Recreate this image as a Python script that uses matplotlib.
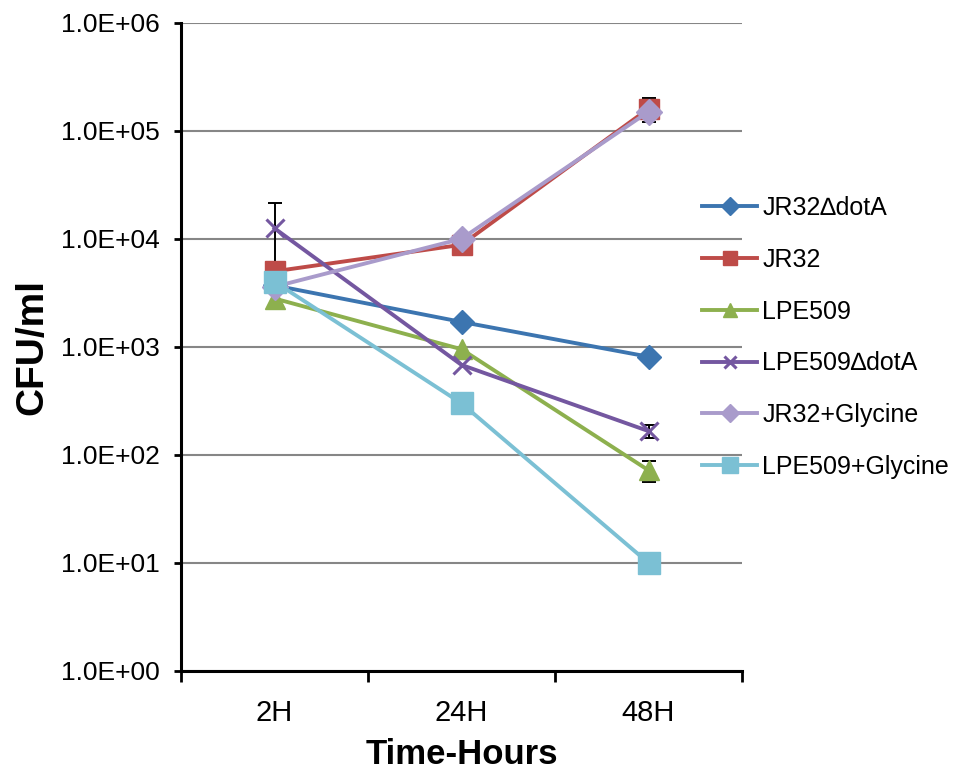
import numpy as np
import matplotlib.pyplot as plt

plt.rcParams['font.family'] = ['Liberation Sans', 'DejaVu Sans']

times = ['2H', '24H', '48H']
series = ['JR32\u2206dotA', 'JR32', 'LPE509', 'LPE509\u2206dotA', 'JR32+Glycine', 'LPE509+Glycine']

jr32_dota = [3.7e3, 1.7e3, 8.1e2]
jr32 = [5.0e3, 8.8e3, 1.6e5]
lpe509 = [2.8e3, 9.5e2, 72]
lpe509_dota = [1.25e4, 6.8e2, 166]
jr32_gly = [3.6e3, 1.0e4, 1.5e5]
lpe509_gly = [4.0e3, 3.0e2, 10]

# standard deviations (0 = no visible bar)
jr32_err = [0, 0, 4.0e4]
lpe509_err = [0, 0, 16]
lpe509_dota_err = [9.0e3, 0, 23]

values = [jr32_dota, jr32, lpe509, lpe509_dota, jr32_gly, lpe509_gly]
errors = [None, jr32_err, lpe509_err, lpe509_dota_err, None, None]
colors = ['#3C75B0', '#BE4B48', '#8DB04E', '#7457A0', '#A99BCB', '#7BC0D4']
markers = ['D', 's', '^', 'x', 'D', 's']
msizes = [12.5, 15, 14, 13, 13.5, 16]

fig = plt.figure(figsize=(9.63, 7.74), dpi=100)
ax = fig.add_axes([0.188, 0.1331, 0.5825, 0.8376])

x = np.arange(len(times))
for vals, err, c, m, ms, lab in zip(values, errors, colors, markers, msizes, series):
    if err is not None:
        e = np.array(err, dtype=float)
        keep = e > 0
        ax.errorbar(x[keep], np.array(vals)[keep], yerr=e[keep], fmt='none',
                    ecolor='black', elinewidth=1.4, capsize=5, capthick=1.4, zorder=2)
    mew = 2.2 if m == 'x' else 1
    ax.plot(x, vals, color=c, marker=m, markersize=ms, linewidth=2.8,
            markeredgewidth=mew, label=lab, zorder=3)

ax.set_yscale('log')
ax.set_ylim(1, 1e6)
ax.set_yticks([10.0 ** k for k in range(7)])
ax.set_yticklabels(['1.0E+%02d' % k for k in range(7)])
ax.minorticks_off()
ax.yaxis.grid(True, color='#868686', linewidth=1.5)
ax.set_axisbelow(True)

ax.set_xlim(-0.5, 2.5)
ax.set_xticks([-0.5, 0.5, 1.5, 2.5])
ax.set_xticklabels([])
ax.set_xticks(x, minor=True)
ax.set_xticklabels(times, minor=True)
ax.tick_params(axis='x', which='major', length=8, width=2)
ax.tick_params(axis='x', which='minor', length=0, labelsize=21, pad=20)
ax.tick_params(axis='y', length=5, width=2, labelsize=19, pad=10)

for s in ['top', 'right']:
    ax.spines[s].set_visible(False)
for s in ['left', 'bottom']:
    ax.spines[s].set_linewidth(2.2)

ax.set_ylabel('CFU/ml', fontsize=28, fontweight='bold', labelpad=8)
ax.set_xlabel('Time-Hours', fontsize=25, fontweight='bold', labelpad=8)

fig.legend(loc='center left', bbox_to_anchor=(0.706, 0.5640), frameon=False,
           fontsize=18, handlelength=2.2, handletextpad=0.2, labelspacing=1.11,
           markerscale=0.7)

fig.savefig('out.png', dpi=100)
